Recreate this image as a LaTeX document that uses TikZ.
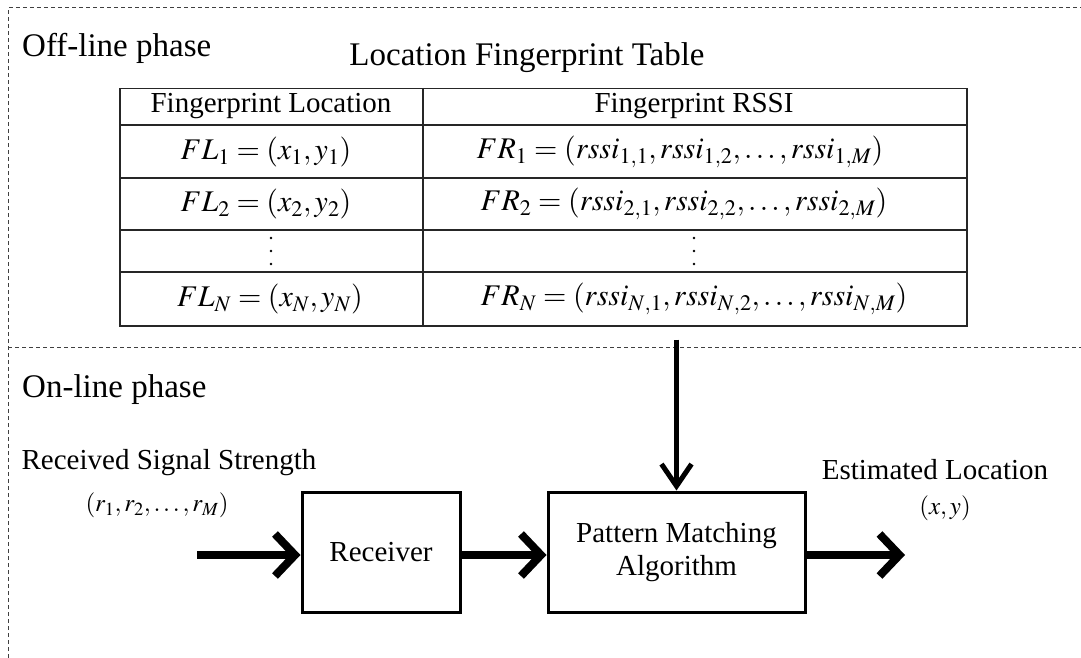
\documentclass[tikz,border=0pt]{standalone}
\usepackage{mathptmx}
\usepackage{fontspec}
\setmainfont{Liberation Serif}
\usetikzlibrary{arrows.meta}
\newcommand{\fsA}{\fontsize{33}{38}\selectfont}
\newcommand{\fsB}{\fontsize{29}{33}\selectfont}
\newcommand{\fsM}{\fontsize{30}{34}\selectfont}
\newcommand{\fsS}{\fontsize{25}{29}\selectfont}
\begin{document}
\begin{tikzpicture}[x=1pt,y=-1pt,
  dashline/.style={draw=black!75, line width=1pt, dash pattern=on 4pt off 3pt},
  tline/.style={draw=black!85, line width=1.5pt},
  blk/.style={draw, line width=3pt, inner sep=0pt, align=center, font=\fsB},
  bigarrow/.style={line width=8pt, -{Straight Barb[length=20pt,width=42pt]}},
  vertarrow/.style={line width=5pt, -{Straight Barb[length=22pt,width=30pt]}},
  lbl/.style={font=\fsB, inner sep=0pt},
  mth/.style={font=\fsM, inner sep=0pt},
  dotmark/.style={fill=black, radius=1.4pt}]
\useasboundingbox (0,0) rectangle (1081,658);
\fill[white] (0,0) rectangle (1081,658);
% phase borders
\draw[dashline] (8,658) -- (8,8) -- (1081,8);
\draw[dashline] (8,347) -- (1081,347);
% off-line
\node[anchor=west, font=\fsA, inner sep=0pt] (off) at (22,48) {Off-line phase};
\node[font=\fsA, inner sep=0pt] (ttl) at (527,58) {Location Fingerprint Table};
% table
\node[tline, minimum width=847pt, minimum height=237pt, anchor=north west, inner sep=0pt] (tbl) at (119,88) {};
\draw[tline] (423,88) -- (423,325);
\draw[tline] (119,125) -- (966,125);
\draw[tline] (119,178) -- (966,178);
\draw[tline] (119,230) -- (966,230);
\draw[tline] (119,272) -- (966,272);
\node[lbl] (h1) at (271,106) {Fingerprint Location};
\node[lbl] (h2) at (694,106) {Fingerprint RSSI};
\node[mth] (c11) at (266,152) {$FL_1=(x_1,y_1)$};
\node[mth] (c12) at (680,152) {$FR_1=(rssi_{1,1},rssi_{1,2},\ldots,rssi_{1,M})$};
\node[mth] (c21) at (266,204) {$FL_2=(x_2,y_2)$};
\node[mth] (c22) at (684,204) {$FR_2=(rssi_{2,1},rssi_{2,2},\ldots,rssi_{2,M})$};
\foreach \yy in {238,251,264} {
  \fill[dotmark] (271,\yy) circle;
  \fill[dotmark] (694,\yy) circle;
}
\node[mth] (c41) at (270,299) {$FL_N=(x_N,y_N)$};
\node[mth] (c42) at (694,299) {$FR_N=(rssi_{N,1},rssi_{N,2},\ldots,rssi_{N,M})$};
% on-line
\node[anchor=west, font=\fsA, inner sep=0pt] (on) at (22,390) {On-line phase};
\node[lbl] (rss) at (169,463) {Received Signal Strength};
\node[font=\fsS, inner sep=0pt] (rvec) at (157,505) {$(r_1,r_2,\ldots,r_M)$};
\node[blk, minimum width=158pt, minimum height=120pt] (rcv) at (381,552) {Receiver};
\node[blk, minimum width=257pt, minimum height=120pt] (pm) at (676.5,552) {Pattern Matching\\Algorithm};
\node[lbl] (est) at (935,470) {Estimated Location};
\node[font=\fsS, inner sep=0pt] (xy) at (945,508) {$(x,y)$};
\coordinate (in) at (197,555);
\coordinate (out) at (905,555);
\draw[bigarrow] (in) -- (in -| rcv.west);
\draw[bigarrow] (rcv.east |- in) -- (in -| pm.west);
\draw[bigarrow] (pm.east |- out) -- (out);
\draw[vertarrow] ([yshift=-13pt]tbl.south -| pm.north) -- (pm.north);
\end{tikzpicture}
\end{document}
